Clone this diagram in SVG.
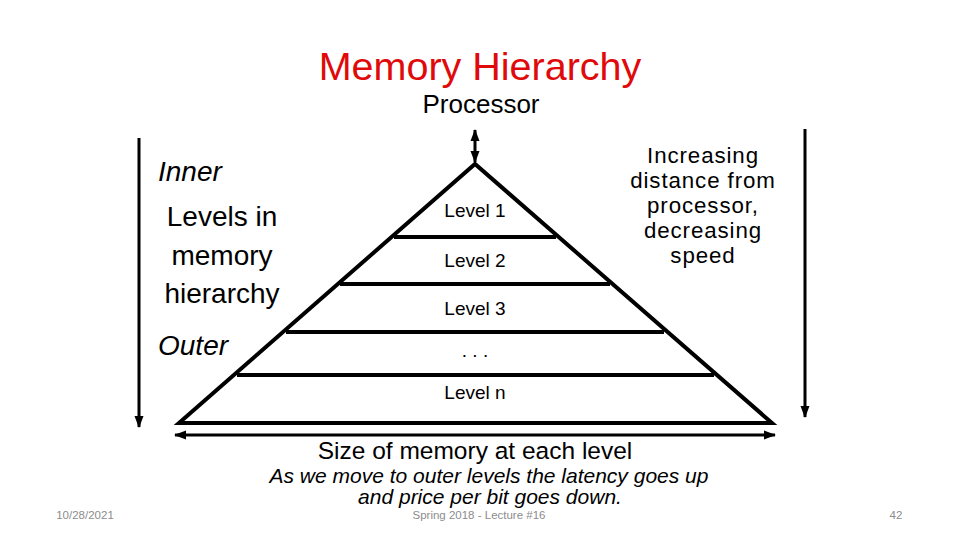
<svg xmlns="http://www.w3.org/2000/svg" width="960" height="540" viewBox="0 0 960 540">
<style>
text{font-family:"Liberation Sans","Noto Sans",Arial,sans-serif;fill:#000}
.lvl{font-size:19px;text-anchor:middle}
.ln{stroke:#000;stroke-width:4;fill:none;stroke-linecap:butt}
.ar{stroke:#000;stroke-width:3;fill:none}
.ft{font-size:11.5px;fill:#8c8c8c}
.it{font-style:italic}
</style>
<defs>
<marker id="ah" markerUnits="userSpaceOnUse" markerWidth="12" markerHeight="12" viewBox="0 0 12 12" refX="11" refY="6" orient="auto-start-reverse">
<path d="M0,1.5 L12,6 L0,10.5 Z" fill="#000"/>
</marker>
</defs>
<rect width="960" height="540" fill="#fff"/>
<text x="480" y="80" font-size="39.5" text-anchor="middle" style="fill:#e00a0a">Memory Hierarchy</text>
<g id="processor"><text x="481" y="113" font-size="26" text-anchor="middle">Processor</text></g>
<g id="connectors">
<line class="ar" x1="475" y1="130" x2="475" y2="162" marker-start="url(#ah)" marker-end="url(#ah)"/>
<line class="ar" x1="139" y1="138" x2="139" y2="427" marker-end="url(#ah)"/>
<line class="ar" x1="805" y1="129" x2="805" y2="417" marker-end="url(#ah)"/>
<line class="ar" x1="175" y1="435" x2="775" y2="435" marker-start="url(#ah)" marker-end="url(#ah)"/>
</g>
<g id="pyramid">
<path class="ln" d="M179,423 L475,164 L772,423 Z" stroke-linejoin="miter"/>
<line class="ln" x1="394" y1="237" x2="556" y2="237"/>
<line class="ln" x1="340" y1="284" x2="610" y2="284"/>
<line class="ln" x1="286" y1="332" x2="664" y2="332"/>
<line class="ln" x1="237" y1="375" x2="714" y2="375"/>
</g>
<g id="level1"><text class="lvl" x="475" y="217">Level 1</text></g>
<g id="level2"><text class="lvl" x="475" y="267">Level 2</text></g>
<g id="level3"><text class="lvl" x="475" y="315">Level 3</text></g>
<g id="leveldots"><text class="lvl" x="475" y="357">. . .</text></g>
<g id="leveln"><text class="lvl" x="475" y="399">Level n</text></g>
<g id="left-labels">
<text x="158" y="181" font-size="28" class="it">Inner</text>
<text x="222" y="226" font-size="28" text-anchor="middle">Levels in</text>
<text x="222" y="265" font-size="28" text-anchor="middle">memory</text>
<text x="222" y="303" font-size="28" text-anchor="middle">hierarchy</text>
<text x="158" y="355" font-size="28" class="it">Outer</text>
</g>
<g id="right-label" font-size="22.3" letter-spacing="0.9">
<text x="703" y="163" text-anchor="middle">Increasing</text>
<text x="703" y="188" text-anchor="middle">distance from</text>
<text x="703" y="213" text-anchor="middle">processor,</text>
<text x="703" y="238" text-anchor="middle">decreasing</text>
<text x="703" y="263" text-anchor="middle">speed</text>
</g>
<g id="size-label">
<text x="475" y="458.5" font-size="24.5" text-anchor="middle">Size of memory at each level</text>
</g>
<g id="note" font-size="21" class="it">
<text x="489" y="483" text-anchor="middle" class="it">As we move to outer levels the latency goes up</text>
<text x="490" y="504" text-anchor="middle" class="it">and price per bit goes down.</text>
</g>
<text x="85" y="519" class="ft" text-anchor="middle">10/28/2021</text>
<text x="479" y="519" class="ft" text-anchor="middle">Spring 2018 - Lecture #16</text>
<text x="896" y="519" class="ft" text-anchor="middle">42</text>
</svg>
